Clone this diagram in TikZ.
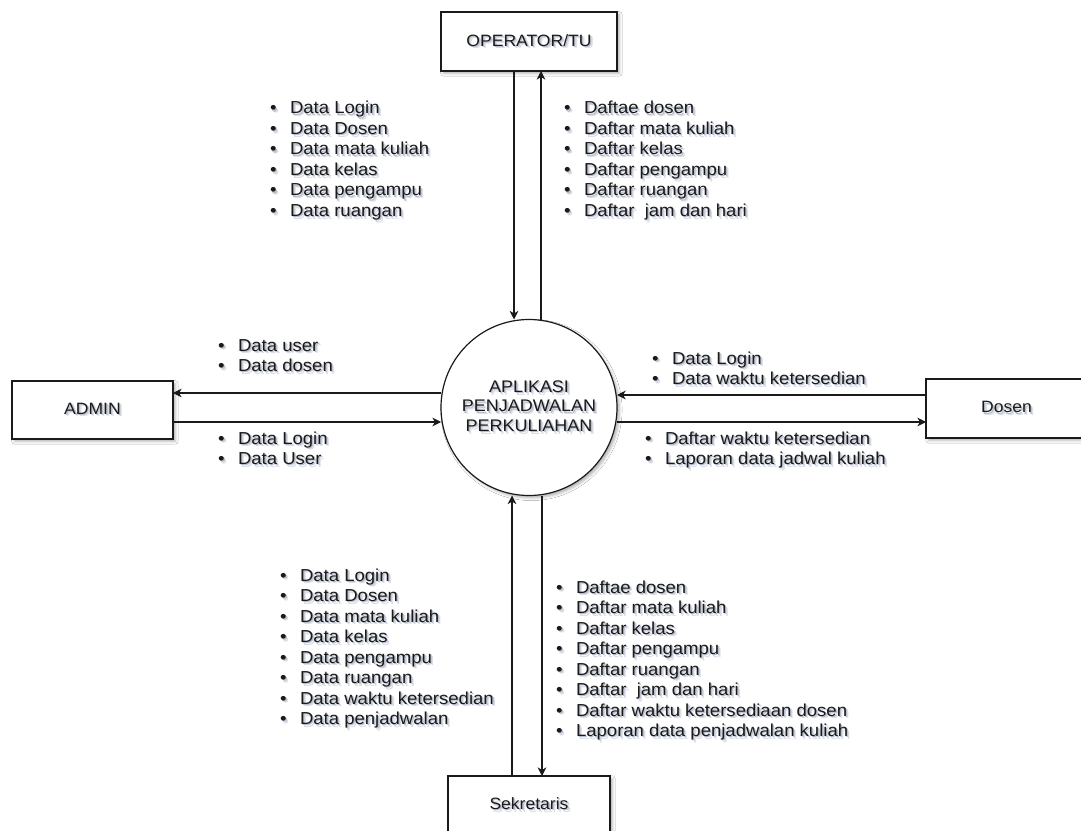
\documentclass[tikz,border=0pt]{standalone}
\usepackage{fontspec}
\setmainfont{Liberation Sans}[FakeStretch=1.07]
\usetikzlibrary{arrows.meta,shadows.blur}

\newdimen\pxu \pxu=0.75pt
\definecolor{ink}{HTML}{1A1A1A}
\definecolor{shadowA}{rgb}{0.86,0.875,0.915}
\definecolor{shadowB}{rgb}{0.72,0.745,0.80}

% text with a soft drop shadow towards the lower right
\newcommand\shd[1]{\leavevmode
  \rlap{\kern2.6\pxu\raisebox{-2.6\pxu}{\textcolor{shadowA}{#1}}}%
  \rlap{\kern1.3\pxu\raisebox{-1.3\pxu}{\textcolor{shadowB}{#1}}}%
  #1}
% one bulleted line
\newcommand\bl[1]{\hbox{\makebox[21\pxu][l]{\kern1\pxu\shd{\textbullet}}\shd{#1}}}
% a stack of bulleted lines; its baseline is that of the first line
\newcommand\blist[1]{\vtop{\baselineskip=20.5\pxu \lineskip=0pt \lineskiplimit=-100pt #1}}

\tikzset{
  boxshadow/.style={blur shadow={shadow xshift=1.8pt, shadow yshift=-1.8pt,
      shadow blur radius=2pt, shadow opacity=30}},
  entity/.style={rectangle, draw=ink, line width=0.9pt, fill=white, inner sep=0pt,
      outer sep=0pt, text=ink, font=\fontsize{12.3pt}{14.8pt}\selectfont, boxshadow},
  proc/.style={circle, draw=ink, line width=0.9pt, fill=white, inner sep=0pt,
      outer sep=0pt, align=center, text=ink,
      font=\fontsize{12.6pt}{14.6pt}\selectfont, boxshadow},
  flow/.style={draw=ink, line width=0.8pt,
      -{Stealth[length=6.5pt, width=6.5pt, inset=2pt]}},
  lst/.style={inner sep=0pt, outer sep=0pt, anchor=base west, text=ink,
      font=\fontsize{13pt}{15.375pt}\selectfont}
}

\begin{document}
\begin{tikzpicture}[x=0.75pt, y=-0.75pt]
  \useasboundingbox (0,0) rectangle (1081,831);
  \fill[white] (0,0) rectangle (1081,831);

  % external entities and the process
  \node[entity, minimum width=132pt, minimum height=44.25pt] (op) at (529,41.5) {\shd{OPERATOR/TU}};
  \node[entity, minimum width=120.75pt, minimum height=43.5pt] (admin) at (92.5,410) {\shd{ADMIN}};
  \node[entity, minimum width=120.75pt, minimum height=44.25pt] (dosen) at (1006.5,408.5) {\shd{Dosen}};
  \node[entity, minimum width=121.5pt, minimum height=43.5pt] (sek) at (529,805) {\shd{Sekretaris}};
  \node[proc, minimum size=132pt] (app) at (529,407.5)
    {\shd{APLIKASI}\\\shd{PENJADWALAN}\\\shd{PERKULIAHAN}};

  % lanes of the data flows
  \coordinate (xa) at (514,0);
  \coordinate (xb) at (541,0);
  \coordinate (xc) at (512,0);
  \coordinate (xd) at (542,0);
  \coordinate (ya) at (0,393);
  \coordinate (yb) at (0,422);
  \coordinate (yc) at (0,395);

  % data flows
  \draw[flow] (op.south -| xa) -- (app.north -| xa);
  \draw[flow] (app.north -| xb) -- (op.south -| xb);
  \draw[flow] (app.west |- ya) -- (admin.east |- ya);
  \draw[flow] (admin.east |- yb) -- (app.west |- yb);
  \draw[flow] (dosen.west |- yc) -- (app.east |- yc);
  \draw[flow] (app.east |- yb) -- (dosen.west |- yb);
  \draw[flow] (sek.north -| xc) -- (app.south -| xc);
  \draw[flow] (app.south -| xd) -- (sek.north -| xd);

  % flow contents
  \node[lst] (opin) at (269,114) {\blist{\bl{Data Login}\bl{Data Dosen}\bl{Data mata kuliah}%
      \bl{Data kelas}\bl{Data pengampu}\bl{Data ruangan}}};
  \node[lst] (opout) at (563,114) {\blist{\bl{Daftae dosen}\bl{Daftar mata kuliah}\bl{Daftar kelas}%
      \bl{Daftar pengampu}\bl{Daftar ruangan}\bl{Daftar\ \ jam dan hari}}};
  \node[lst] (adout) at (217,351) {\blist{\bl{Data user}\bl{Data dosen}}};
  \node[lst] (adin) at (217,444) {\blist{\bl{Data Login}\bl{Data User}}};
  \node[lst] (dsin) at (651,364) {\blist{\bl{Data Login}\bl{Data waktu ketersedian}}};
  \node[lst] (dsout) at (644,444) {\blist{\bl{Daftar waktu ketersedian}\bl{Laporan data jadwal kuliah}}};
  \node[lst] (skin) at (279,581) {\blist{\bl{Data Login}\bl{Data Dosen}\bl{Data mata kuliah}%
      \bl{Data kelas}\bl{Data pengampu}\bl{Data ruangan}\bl{Data waktu ketersedian}%
      \bl{Data penjadwalan}}};
  \node[lst] (skout) at (555,593) {\blist{\bl{Daftae dosen}\bl{Daftar mata kuliah}\bl{Daftar kelas}%
      \bl{Daftar pengampu}\bl{Daftar ruangan}\bl{Daftar\ \ jam dan hari}%
      \bl{Daftar waktu ketersediaan dosen}\bl{Laporan data penjadwalan kuliah}}};
\end{tikzpicture}
\end{document}
